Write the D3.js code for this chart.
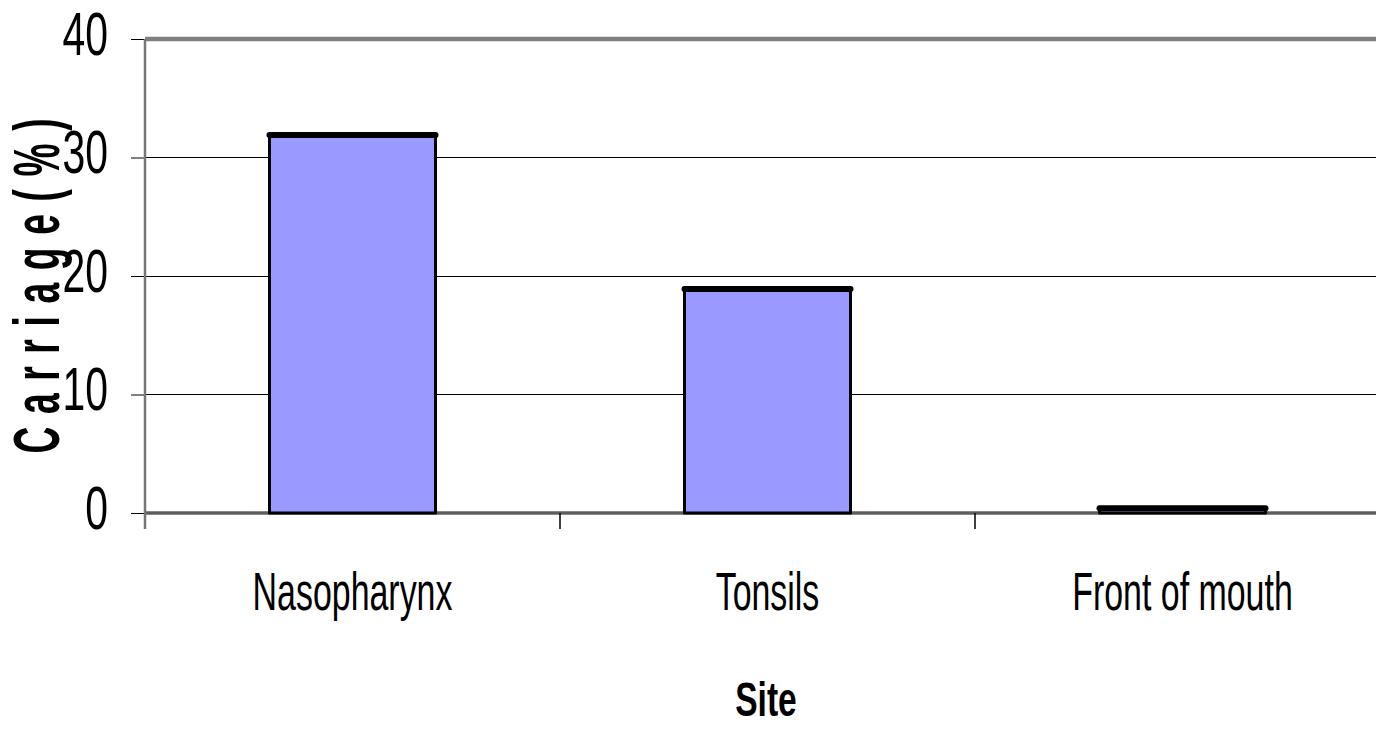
<!DOCTYPE html>
<html>
<head>
<meta charset="utf-8">
<script src="https://cdn.jsdelivr.net/npm/d3@7"></script>
<style>
  body { margin: 0; background: #fff; }
  svg { display: block; }
</style>
</head>
<body>
<div id="chart"></div>
<script>
// data
var sites = ["Nasopharynx", "Tonsils", "Front of mouth"];
var carriage = [31.9, 18.9, 0.4];
var yTicks = [0, 10, 20, 30, 40];

var svgWidth = 1376;
var svgHeight = 730;

var margin = { top: 39, right: -14, bottom: 217, left: 145 };
var width = svgWidth - margin.left - margin.right;
var height = svgHeight - margin.top - margin.bottom;

var svg = d3.select("#chart")
    .append("svg")
    .attr("width", svgWidth)
    .attr("height", svgHeight);

var chartGroup = svg.append("g")
    .attr("transform", `translate(${margin.left}, ${margin.top})`);

// scales
var x = d3.scaleBand()
    .domain(sites)
    .range([0, width])
    .paddingInner(0.6)
    .paddingOuter(0.3);

var y = d3.scaleLinear()
    .domain([0, 40])
    .range([height, 0]);

// gridlines
chartGroup.append("g")
    .selectAll("line")
    .data(yTicks.filter(d => d > 0 && d < 40))
    .enter()
    .append("line")
    .attr("x1", 0)
    .attr("x2", width)
    .attr("y1", d => y(d))
    .attr("y2", d => y(d))
    .attr("stroke", "#000")
    .attr("stroke-width", 1)
    .attr("shape-rendering", "crispEdges");

// plot area border (top + bottom gray)
chartGroup.append("line")
    .attr("x1", 0).attr("x2", width)
    .attr("y1", y(40)).attr("y2", y(40))
    .attr("stroke", "#808080")
    .attr("stroke-width", 4.5);

chartGroup.append("line")
    .attr("x1", 0).attr("x2", width)
    .attr("y1", y(0)).attr("y2", y(0))
    .attr("stroke", "#8a8a8a")
    .attr("stroke-width", 4);
chartGroup.append("line")
    .attr("x1", 0).attr("x2", width)
    .attr("y1", y(0)).attr("y2", y(0))
    .attr("stroke", "#333")
    .attr("stroke-width", 1);

// bars
chartGroup.append("g")
    .selectAll("rect")
    .data(sites)
    .enter()
    .append("rect")
    .attr("x", d => x(d))
    .attr("y", (d, i) => y(carriage[i]))
    .attr("width", x.bandwidth())
    .attr("height", (d, i) => y(0) - y(carriage[i]))
    .attr("fill", "#9999ff")
    .attr("stroke", "#000")
    .attr("stroke-width", 3)
    .attr("stroke-linejoin", "round");

// thicker top edge like the original
chartGroup.append("g")
    .selectAll("line")
    .data(sites)
    .enter()
    .append("line")
    .attr("x1", d => x(d))
    .attr("x2", d => x(d) + x.bandwidth())
    .attr("y1", (d, i) => y(carriage[i]))
    .attr("y2", (d, i) => y(carriage[i]))
    .attr("stroke", "#000")
    .attr("stroke-width", 6)
    .attr("stroke-linecap", "round");

// y axis
var leftAxis = d3.axisLeft(y)
    .tickValues(yTicks)
    .tickSize(14)
    .tickSizeOuter(0);

var yAxis = chartGroup.append("g").call(leftAxis);
yAxis.select(".domain").remove();
yAxis.selectAll(".tick line").attr("stroke", "#000");
yAxis.selectAll("text")
    .attr("x", 0)
    .attr("y", 0)
    .attr("dy", 0)
    .attr("text-anchor", "end")
    .attr("transform", "translate(-37, 15) scale(0.66, 1)")
    .attr("font-family", "'Liberation Sans', Arial, sans-serif")
    .attr("font-size", "62px")
    .attr("fill", "#000");

chartGroup.append("line")
    .attr("x1", 0).attr("x2", 0)
    .attr("y1", y(40)).attr("y2", y(0) + 16)
    .attr("stroke", "#777")
    .attr("stroke-width", 2.5);

// x axis: labels at band centres, ticks at band boundaries
var bottomAxis = d3.axisBottom(x).tickSize(0).tickSizeOuter(0);
var xAxis = chartGroup.append("g")
    .attr("transform", `translate(0, ${height})`)
    .call(bottomAxis);
xAxis.select(".domain").remove();
xAxis.selectAll("text")
    .attr("y", 97)
    .attr("dy", 0)
    .attr("transform", "scale(0.64, 1)")
    .attr("font-family", "'Liberation Sans', Arial, sans-serif")
    .attr("font-size", "53px")
    .attr("fill", "#000");

chartGroup.append("g")
    .selectAll("line")
    .data(sites.slice(1))
    .enter()
    .append("line")
    .attr("x1", d => x(d) - x.step() * 0.3)
    .attr("x2", d => x(d) - x.step() * 0.3)
    .attr("y1", height)
    .attr("y2", height + 16)
    .attr("stroke", "#000")
    .attr("stroke-width", 1.5);

// axis titles
svg.append("text")
    .attr("transform", "translate(59, 286) rotate(-90) scale(0.58, 1)")
    .attr("text-anchor", "middle")
    .attr("font-family", "'Liberation Sans', Arial, sans-serif")
    .attr("font-weight", "bold")
    .attr("font-size", "64px")
    .attr("textLength", 578)
    .attr("lengthAdjust", "spacing")
    .text("C a r r i a g e ( % )");

svg.append("text")
    .attr("transform", "translate(766, 716) scale(0.7, 1)")
    .attr("text-anchor", "middle")
    .attr("font-family", "'Liberation Sans', Arial, sans-serif")
    .attr("font-weight", "bold")
    .attr("font-size", "48px")
    .text("Site");
</script>
</body>
</html>
